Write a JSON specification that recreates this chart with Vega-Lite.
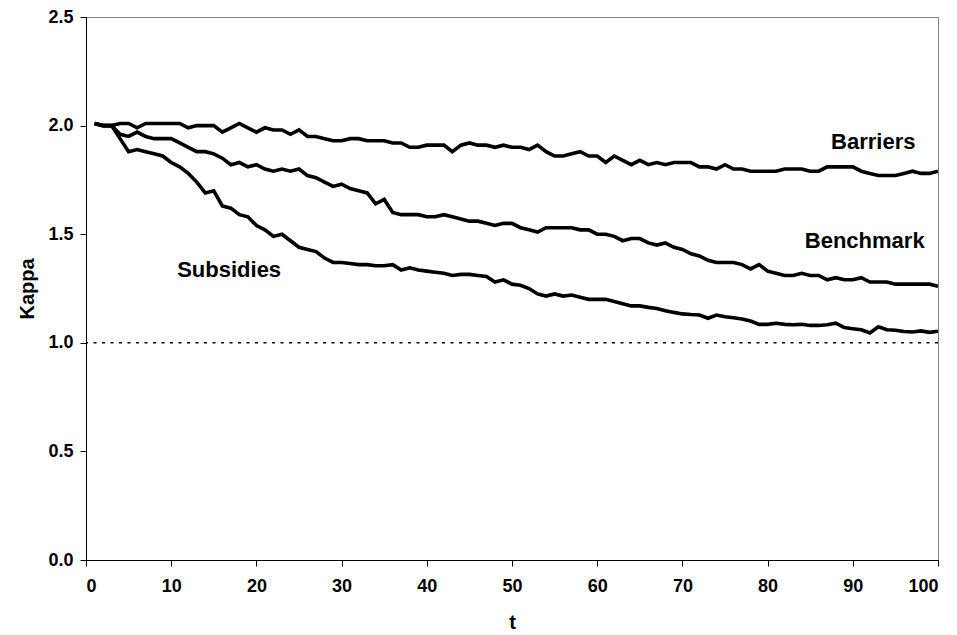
{
  "$schema": "https://vega.github.io/schema/vega-lite/v6.json",
  "autosize": {"type": "none"},
  "padding": {"left": 86, "top": 17, "right": 17, "bottom": 75},
  "width": 852,
  "height": 543,
  "background": "white",
  "config": {
    "font": "Liberation Sans",
    "view": {"stroke": "#808080", "strokeWidth": 1},
    "axis": {
      "labelFont": "Liberation Sans",
      "labelFontWeight": "bold",
      "labelFontSize": 18,
      "labelColor": "black",
      "titleFont": "Liberation Sans",
      "titleFontWeight": "bold",
      "titleFontSize": 20,
      "titleColor": "black",
      "domainColor": "black",
      "tickColor": "black",
      "grid": false,
      "tickSize": 6
    }
  },
  "datasets": {
    "series": [
      {"t":1,"B":2.01,"M":2.01,"S":2.01},{"t":2,"B":2.00,"M":2.00,"S":2.00},{"t":3,"B":2.00,"M":2.00,"S":2.00},{"t":4,"B":2.01,"M":1.96,"S":1.94},{"t":5,"B":2.01,"M":1.95,"S":1.88},
      {"t":6,"B":1.99,"M":1.97,"S":1.89},{"t":7,"B":2.01,"M":1.95,"S":1.88},{"t":8,"B":2.01,"M":1.94,"S":1.87},{"t":9,"B":2.01,"M":1.94,"S":1.86},{"t":10,"B":2.01,"M":1.94,"S":1.83},
      {"t":11,"B":2.01,"M":1.92,"S":1.81},{"t":12,"B":1.99,"M":1.90,"S":1.78},{"t":13,"B":2.00,"M":1.88,"S":1.74},{"t":14,"B":2.00,"M":1.88,"S":1.69},{"t":15,"B":2.00,"M":1.87,"S":1.70},
      {"t":16,"B":1.97,"M":1.85,"S":1.63},{"t":17,"B":1.99,"M":1.82,"S":1.62},{"t":18,"B":2.01,"M":1.83,"S":1.59},{"t":19,"B":1.99,"M":1.81,"S":1.58},{"t":20,"B":1.97,"M":1.82,"S":1.54},
      {"t":21,"B":1.99,"M":1.80,"S":1.52},{"t":22,"B":1.98,"M":1.79,"S":1.49},{"t":23,"B":1.98,"M":1.80,"S":1.50},{"t":24,"B":1.96,"M":1.79,"S":1.47},{"t":25,"B":1.98,"M":1.80,"S":1.44},
      {"t":26,"B":1.95,"M":1.77,"S":1.43},{"t":27,"B":1.95,"M":1.76,"S":1.42},{"t":28,"B":1.94,"M":1.74,"S":1.39},{"t":29,"B":1.93,"M":1.72,"S":1.37},{"t":30,"B":1.93,"M":1.73,"S":1.37},
      {"t":31,"B":1.94,"M":1.71,"S":1.365},{"t":32,"B":1.94,"M":1.70,"S":1.36},{"t":33,"B":1.93,"M":1.69,"S":1.36},{"t":34,"B":1.93,"M":1.64,"S":1.355},{"t":35,"B":1.93,"M":1.66,"S":1.355},
      {"t":36,"B":1.92,"M":1.60,"S":1.36},{"t":37,"B":1.92,"M":1.59,"S":1.335},{"t":38,"B":1.90,"M":1.59,"S":1.345},{"t":39,"B":1.90,"M":1.59,"S":1.335},{"t":40,"B":1.91,"M":1.58,"S":1.33},
      {"t":41,"B":1.91,"M":1.58,"S":1.325},{"t":42,"B":1.91,"M":1.59,"S":1.32},{"t":43,"B":1.88,"M":1.58,"S":1.31},{"t":44,"B":1.91,"M":1.57,"S":1.315},{"t":45,"B":1.92,"M":1.56,"S":1.315},
      {"t":46,"B":1.91,"M":1.56,"S":1.31},{"t":47,"B":1.91,"M":1.55,"S":1.305},{"t":48,"B":1.90,"M":1.54,"S":1.28},{"t":49,"B":1.91,"M":1.55,"S":1.29},{"t":50,"B":1.90,"M":1.55,"S":1.27},
      {"t":51,"B":1.90,"M":1.53,"S":1.265},{"t":52,"B":1.89,"M":1.52,"S":1.25},{"t":53,"B":1.91,"M":1.51,"S":1.225},{"t":54,"B":1.88,"M":1.53,"S":1.215},{"t":55,"B":1.86,"M":1.53,"S":1.225},
      {"t":56,"B":1.86,"M":1.53,"S":1.215},{"t":57,"B":1.87,"M":1.53,"S":1.22},{"t":58,"B":1.88,"M":1.52,"S":1.21},{"t":59,"B":1.86,"M":1.52,"S":1.20},{"t":60,"B":1.86,"M":1.50,"S":1.20},
      {"t":61,"B":1.83,"M":1.50,"S":1.20},{"t":62,"B":1.86,"M":1.49,"S":1.19},{"t":63,"B":1.84,"M":1.47,"S":1.18},{"t":64,"B":1.82,"M":1.48,"S":1.17},{"t":65,"B":1.84,"M":1.48,"S":1.17},
      {"t":66,"B":1.82,"M":1.46,"S":1.163},{"t":67,"B":1.83,"M":1.45,"S":1.158},{"t":68,"B":1.82,"M":1.46,"S":1.148},{"t":69,"B":1.83,"M":1.44,"S":1.14},{"t":70,"B":1.83,"M":1.43,"S":1.133},
      {"t":71,"B":1.83,"M":1.41,"S":1.13},{"t":72,"B":1.81,"M":1.40,"S":1.128},{"t":73,"B":1.81,"M":1.38,"S":1.113},{"t":74,"B":1.80,"M":1.37,"S":1.128},{"t":75,"B":1.82,"M":1.37,"S":1.12},
      {"t":76,"B":1.80,"M":1.37,"S":1.115},{"t":77,"B":1.80,"M":1.36,"S":1.11},{"t":78,"B":1.79,"M":1.34,"S":1.10},{"t":79,"B":1.79,"M":1.36,"S":1.085},{"t":80,"B":1.79,"M":1.33,"S":1.085},
      {"t":81,"B":1.79,"M":1.32,"S":1.09},{"t":82,"B":1.80,"M":1.31,"S":1.085},{"t":83,"B":1.80,"M":1.31,"S":1.083},{"t":84,"B":1.80,"M":1.32,"S":1.085},{"t":85,"B":1.79,"M":1.31,"S":1.08},
      {"t":86,"B":1.79,"M":1.31,"S":1.08},{"t":87,"B":1.81,"M":1.29,"S":1.083},{"t":88,"B":1.81,"M":1.30,"S":1.09},{"t":89,"B":1.81,"M":1.29,"S":1.07},{"t":90,"B":1.81,"M":1.29,"S":1.065},
      {"t":91,"B":1.79,"M":1.30,"S":1.06},{"t":92,"B":1.78,"M":1.28,"S":1.045},{"t":93,"B":1.77,"M":1.28,"S":1.074},{"t":94,"B":1.77,"M":1.28,"S":1.06},{"t":95,"B":1.77,"M":1.27,"S":1.058},
      {"t":96,"B":1.78,"M":1.27,"S":1.052},{"t":97,"B":1.79,"M":1.27,"S":1.05},{"t":98,"B":1.78,"M":1.27,"S":1.055},{"t":99,"B":1.78,"M":1.27,"S":1.048},{"t":100,"B":1.79,"M":1.26,"S":1.053}
    ],
    "labels": [
      {"t": 92.4, "v": 1.924, "label": "Barriers"},
      {"t": 91.4, "v": 1.469, "label": "Benchmark"},
      {"t": 16.8, "v": 1.335, "label": "Subsidies"}
    ],
    "ref": [{"v": 1}]
  },
  "layer": [
    {
      "data": {"name": "series"},
      "transform": [{"fold": ["B", "M", "S"], "as": ["series", "v"]}],
      "mark": {"type": "line", "color": "black", "strokeWidth": 3.6, "strokeJoin": "miter", "clip": true},
      "encoding": {
        "x": {"field": "t", "type": "quantitative", "scale": {"domain": [0, 100], "nice": false},
              "axis": {"values": [0,10,20,30,40,50,60,70,80,90,100], "title": "t", "labelPadding": 11, "titlePadding": 17}},
        "y": {"field": "v", "type": "quantitative", "scale": {"domain": [0, 2.5], "nice": false},
              "axis": {"values": [0,0.5,1,1.5,2,2.5], "format": ".1f", "title": "Kappa", "labelPadding": 7, "titlePadding": 10}},
        "detail": {"field": "series", "type": "nominal"}
      }
    },
    {
      "data": {"name": "ref"},
      "mark": {"type": "rule", "color": "black", "strokeWidth": 1.5, "strokeDash": [3, 5.5]},
      "encoding": {"y": {"field": "v", "type": "quantitative"}}
    },
    {
      "data": {"name": "labels"},
      "mark": {"type": "text", "font": "Liberation Sans", "fontWeight": "bold", "fontSize": 22, "color": "black", "align": "center", "baseline": "middle"},
      "encoding": {
        "x": {"field": "t", "type": "quantitative"},
        "y": {"field": "v", "type": "quantitative"},
        "text": {"field": "label"}
      }
    }
  ]
}
